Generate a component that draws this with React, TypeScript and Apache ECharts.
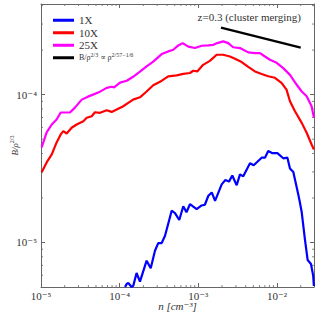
import React, { useEffect, useRef } from "react";
import * as echarts from "echarts";

// x: density n [cm^-3]; y: B / rho^(2/3)
const magentaX = [1.02e-5, 1.18e-5, 1.37e-5, 1.58e-5, 1.78e-5, 2.02e-5, 2.33e-5, 2.7e-5, 3.29e-5, 3.95e-5, 4.58e-5, 5.62e-5, 6.84e-5, 7.91e-5, 8.5e-5, 1.01e-4, 1.23e-4, 1.48e-4, 1.81e-4, 2.2e-4, 2.67e-4, 3.42e-4, 4.14e-4, 4.8e-4, 5.56e-4, 6.31e-4, 7.45e-4, 9.06e-4, 1.1e-3, 1.34e-3, 1.55e-3, 1.74e-3, 2.07e-3, 2.4e-3, 2.77e-3, 3.38e-3, 4.31e-3, 5.24e-3, 6.07e-3, 7.02e-3, 8.13e-3, 9.89e-3, 1.2e-2, 1.46e-2, 1.77e-2, 2.06e-2, 2.38e-2, 2.75e-2, 2.94e-2];
const magentaY = [4.4e-5, 5.55e-5, 6.28e-5, 6.79e-5, 7.57e-5, 7.57e-5, 7.57e-5, 8.17e-5, 9.25e-5, 9.69e-5, 1.0e-4, 1.047e-4, 1.11e-4, 1.13e-4, 1.12e-4, 1.205e-4, 1.24e-4, 1.32e-4, 1.43e-4, 1.55e-4, 1.67e-4, 1.88e-4, 1.96e-4, 2.01e-4, 2.15e-4, 2.23e-4, 2.11e-4, 2.065e-4, 2.14e-4, 2.15e-4, 2.17e-4, 2.23e-4, 2.29e-4, 2.23e-4, 2.09e-4, 2.065e-4, 1.93e-4, 1.91e-4, 1.91e-4, 1.81e-4, 1.72e-4, 1.64e-4, 1.51e-4, 1.36e-4, 1.17e-4, 1.05e-4, 9.75e-5, 8.34e-5, 7.0e-5];

const redX = [1.02e-5, 1.18e-5, 1.37e-5, 1.58e-5, 1.78e-5, 1.92e-5, 2.12e-5, 2.45e-5, 2.84e-5, 3.45e-5, 3.81e-5, 4.41e-5, 4.85e-5, 5.62e-5, 6.84e-5, 7.91e-5, 9.16e-5, 1.11e-4, 1.285e-4, 1.48e-4, 1.81e-4, 2.2e-4, 2.67e-4, 3.25e-4, 4.14e-4, 5.3e-4, 6.43e-4, 7.82e-4, 8.61e-4, 9.68e-4, 1.15e-3, 1.4e-3, 1.71e-3, 2.07e-3, 2.52e-3, 2.92e-3, 3.55e-3, 4.31e-3, 5.24e-3, 6.37e-3, 7.73e-3, 9.4e-3, 1.14e-2, 1.32e-2, 1.46e-2, 1.69e-2, 2.06e-2, 2.38e-2, 2.75e-2, 2.94e-2];
const redY = [2.98e-5, 3.48e-5, 3.94e-5, 4.75e-5, 5.38e-5, 5.66e-5, 5.46e-5, 5.97e-5, 6.28e-5, 6.61e-5, 6.97e-5, 7.14e-5, 7.6e-5, 7.53e-5, 7.84e-5, 7.64e-5, 7.92e-5, 8.34e-5, 8.79e-5, 9.25e-5, 9.59e-5, 1.05e-4, 1.156e-4, 1.22e-4, 1.33e-4, 1.35e-4, 1.38e-4, 1.4e-4, 1.45e-4, 1.435e-4, 1.59e-4, 1.69e-4, 1.86e-4, 1.86e-4, 1.81e-4, 1.75e-4, 1.66e-4, 1.54e-4, 1.435e-4, 1.38e-4, 1.33e-4, 1.3e-4, 1.2e-4, 1.08e-4, 9.02e-5, 7.72e-5, 6.44e-5, 5.52e-5, 4.6e-5, 4.26e-5];

const blueX = [1.17e-4, 1.23e-4, 1.285e-4, 1.42e-4, 1.49e-4, 1.64e-4, 1.81e-4, 2.2e-4, 2.48e-4, 2.81e-4, 3.09e-4, 3.42e-4, 3.77e-4, 4.58e-4, 5.05e-4, 5.72e-4, 6.43e-4, 7.06e-4, 7.82e-4, 9.51e-4, 1.1e-3, 1.21e-3, 1.34e-3, 1.48e-3, 1.63e-3, 1.98e-3, 2.21e-3, 2.45e-3, 2.7e-3, 3.07e-3, 3.38e-3, 3.72e-3, 4.53e-3, 5.05e-3, 6.37e-3, 7.02e-3, 7.73e-3, 8.74e-3, 1.01e-2, 1.2e-2, 1.355e-2, 1.46e-2, 1.61e-2, 1.86e-2, 1.95e-2, 2.06e-2, 2.26e-2, 2.45e-2, 2.7e-2, 2.88e-2, 2.94e-2];
const blueY = [5.0e-6, 5.25e-6, 5.32e-6, 5.0e-6, 5.11e-6, 6.22e-6, 5.43e-6, 7.53e-6, 6.69e-6, 8.79e-6, 9.91e-6, 9.91e-6, 1.11e-5, 1.64e-5, 1.58e-5, 1.42e-5, 1.76e-5, 1.6e-5, 1.815e-5, 1.68e-5, 1.78e-5, 1.8e-5, 2.07e-5, 2.18e-5, 1.91e-5, 2.47e-5, 2.65e-5, 2.58e-5, 2.84e-5, 2.44e-5, 2.89e-5, 2.8e-5, 3.43e-5, 3.33e-5, 3.745e-5, 3.745e-5, 4.15e-5, 4.02e-5, 4.02e-5, 3.71e-5, 3.745e-5, 3.17e-5, 2.995e-5, 2.12e-5, 1.87e-5, 1.6e-5, 1.055e-5, 7.61e-6, 7.15e-6, 5.97e-6, 5.08e-6];

const fitX = [1.94e-3, 2.0e-2];
const fitY = [2.84e-4, 2.08e-4];

const xMin = 1e-5;
const xMax = 2.95e-2;
const yMin = 5.0e-6;
const yMax = 4.1e-4;

const xMinorTicks = [2e-5, 3e-5, 4e-5, 5e-5, 6e-5, 7e-5, 8e-5, 9e-5, 2e-4, 3e-4, 4e-4, 5e-4, 6e-4, 7e-4, 8e-4, 9e-4, 2e-3, 3e-3, 4e-3, 5e-3, 6e-3, 7e-3, 8e-3, 9e-3, 2e-2];
const yMinorTicks = [6e-6, 7e-6, 8e-6, 9e-6, 2e-5, 3e-5, 4e-5, 5e-5, 6e-5, 7e-5, 8e-5, 9e-5, 2e-4, 3e-4, 4e-4];

const SERIF = "'Liberation Serif', 'DejaVu Serif', serif";
const TXT = "#333";
const FRAME = "#666";

const SUP: Record<string, string> = { "0": "⁰", "1": "¹", "2": "²", "3": "³", "4": "⁴", "5": "⁵", "6": "⁶", "7": "⁷", "8": "⁸", "9": "⁹", "-": "⁻" };
const sup = (s: string) => s.split("").map((c) => SUP[c] ?? c).join("");

const zip = (xs: number[], ys: number[]) => xs.map((x, i) => [x, ys[i]]);

const powLabel = (v: number) => {
  const e = Math.log10(v);
  const r = Math.round(e);
  if (Math.abs(e - r) > 1e-6) return "";
  return "10" + sup(String(r));
};

export default function App() {
  const ref = useRef<HTMLDivElement>(null);
  useEffect(() => {
    if (!ref.current) return;
    const chart = echarts.init(ref.current, undefined, { renderer: "svg" });
    const axisCommon = {
      type: "log" as const,
      logBase: 10,
      axisLine: { show: true, lineStyle: { color: FRAME, width: 1 } },
      axisTick: { show: true, inside: true, length: 4, lineStyle: { color: FRAME } },
      splitLine: { show: false },
    };
    const minorRender = (isX: boolean) => (params: any, api: any) => {
      const cs = params.coordSys;
      const p = api.coord([api.value(0), api.value(1)]);
      const L = 2;
      const style = { stroke: FRAME, lineWidth: 0.8 };
      if (isX) {
        return {
          type: "group",
          children: [
            { type: "line", shape: { x1: p[0], y1: cs.y + cs.height, x2: p[0], y2: cs.y + cs.height - L }, style },
            { type: "line", shape: { x1: p[0], y1: cs.y, x2: p[0], y2: cs.y + L }, style },
          ],
        };
      }
      return {
        type: "group",
        children: [
          { type: "line", shape: { x1: cs.x, y1: p[1], x2: cs.x + L, y2: p[1] }, style },
          { type: "line", shape: { x1: cs.x + cs.width, y1: p[1], x2: cs.x + cs.width - L, y2: p[1] }, style },
        ],
      };
    };
    chart.setOption({
      animation: false,
      backgroundColor: "#fff",
      grid: { left: 41, right: 3, top: 4, bottom: 29, containLabel: false, outerBoundsMode: "none" },
      title: {
        text: "z=0.3 (cluster merging)",
        right: 11,
        top: 6,
        textStyle: { fontFamily: SERIF, fontSize: 11, fontWeight: "normal", color: TXT },
      },
      legend: {
        orient: "vertical",
        left: 48,
        top: 9,
        itemWidth: 21,
        itemHeight: 3,
        itemGap: 0,
        icon: "rect",
        data: ["1X", "10X", "25X", "fit"],
        textStyle: {
          fontFamily: SERIF,
          fontSize: 11,
          color: TXT,
          lineHeight: 12.5,
          rich: {
            f: { fontFamily: SERIF, fontSize: 8, color: TXT },
            p: { fontFamily: SERIF, fontSize: 6, color: TXT, padding: [0, 0, 5, 0] },
          },
        },
        formatter: (name: string) =>
          name === "fit" ? "{f|B/ρ}{p|2/3}{f| ∝ ρ}{p|2/57−1/6}" : name,
      },
      xAxis: [
        {
          ...axisCommon,
          min: xMin,
          max: xMax,
          position: "bottom",
          axisLabel: { show: true, formatter: powLabel, fontFamily: SERIF, fontSize: 11, color: TXT, margin: 3, showMaxLabel: false },
          name: "n [cm" + sup("-3") + "]",
          nameLocation: "middle",
          nameGap: 13,
          nameMoveOverlap: false,
          nameTextStyle: { fontFamily: SERIF, fontStyle: "italic", fontSize: 11, color: TXT },
        },
        {
          ...axisCommon,
          min: xMin,
          max: xMax,
          position: "top",
          axisLabel: { show: false },
        },
      ],
      yAxis: [
        {
          ...axisCommon,
          min: yMin,
          max: yMax,
          position: "left",
          axisLabel: { show: true, formatter: powLabel, fontFamily: SERIF, fontSize: 11, color: TXT, margin: 4, showMinLabel: false, showMaxLabel: false },
          name: "{a|B/ρ}{s|2/3}",
          nameLocation: "middle",
          nameRotate: 90,
          nameGap: 21,
          nameMoveOverlap: false,
          nameTextStyle: {
            rich: {
              a: { fontFamily: SERIF, fontStyle: "italic", fontSize: 9, color: TXT },
              s: { fontFamily: SERIF, fontSize: 6, color: TXT, padding: [0, 0, 5, 0] },
            },
          },
        },
        {
          ...axisCommon,
          min: yMin,
          max: yMax,
          position: "right",
          axisLabel: { show: false },
        },
      ],
      series: [
        { name: "1X", type: "line", data: zip(blueX, blueY), showSymbol: false, lineStyle: { color: "#0000ff", width: 2.2 }, itemStyle: { color: "#0000ff" } },
        { name: "10X", type: "line", data: zip(redX, redY), showSymbol: false, lineStyle: { color: "#ff0000", width: 2.2 }, itemStyle: { color: "#ff0000" } },
        { name: "25X", type: "line", data: zip(magentaX, magentaY), showSymbol: false, lineStyle: { color: "#ff00ff", width: 2.2 }, itemStyle: { color: "#ff00ff" } },
        { name: "fit", type: "line", data: zip(fitX, fitY), showSymbol: false, lineStyle: { color: "#000", width: 2.2 }, itemStyle: { color: "#000" } },
        { type: "custom", data: xMinorTicks.map((v) => [v, 1e-4]), renderItem: minorRender(true), silent: true, clip: false },
        { type: "custom", data: yMinorTicks.map((v) => [1e-4, v]), renderItem: minorRender(false), silent: true, clip: false },
      ],
    });
    return () => chart.dispose();
  }, []);
  return <div ref={ref} style={{ position: "fixed", left: 0, top: 0, width: 317, height: 316 }} />;
}
